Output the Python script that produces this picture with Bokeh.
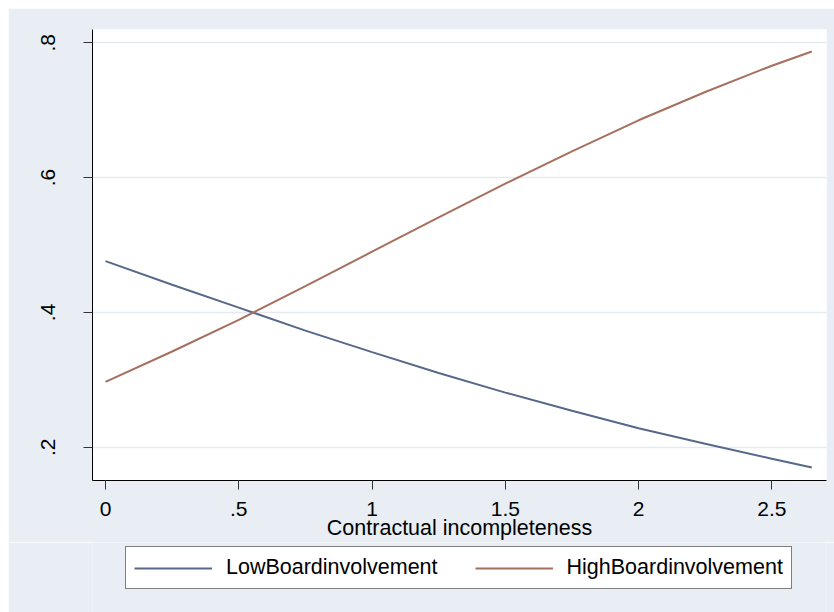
from bokeh.plotting import figure
from bokeh.models import Range1d, FixedTicker, Legend, LegendItem
from bokeh.layouts import column
from bokeh.embed import file_html
from bokeh.resources import INLINE

# Data
x_vals = [0.0, 0.25, 0.5, 0.75, 1.0, 1.25, 1.5, 1.75, 2.0, 2.25, 2.5, 2.65]
low_board = [0.476, 0.441, 0.407, 0.373, 0.341, 0.310, 0.281, 0.254, 0.228, 0.205, 0.183, 0.170]
high_board = [0.297, 0.342, 0.389, 0.439, 0.490, 0.541, 0.591, 0.639, 0.685, 0.727, 0.766, 0.787]

x_ticks = [0, 0.5, 1, 1.5, 2, 2.5]
x_tick_labels = ["0", ".5", "1", "1.5", "2", "2.5"]
y_ticks = [0.2, 0.4, 0.6, 0.8]
y_tick_labels = [".2", ".4", ".6", ".8"]

series_names = ["LowBoardinvolvement", "HighBoardinvolvement"]
x_title = "Contractual incompleteness"

BG = "#E8EEF3"
FONT = "Liberation Sans"
LOW_COLOR = "#56698A"
HIGH_COLOR = "#A6705E"

# ---- main plot ----
p = figure(width=826, height=534, output_backend="svg", toolbar_location=None,
           x_range=Range1d(-0.0488, 2.705), y_range=Range1d(0.1506, 0.8197),
           min_border_left=84, min_border_right=8, min_border_top=21, min_border_bottom=62,
           margin=(8, 0, 0, 8))

p.background_fill_color = "white"
p.border_fill_color = BG
p.outline_line_color = None

p.line(x_vals, low_board, line_color=LOW_COLOR, line_width=2)
p.line(x_vals, high_board, line_color=HIGH_COLOR, line_width=2)

for ax in (p.xaxis[0], p.yaxis[0]):
    ax.axis_line_color = "black"
    ax.axis_line_width = 1
    ax.major_tick_in = 0
    ax.major_tick_out = 9
    ax.major_tick_line_color = "#333333"
    ax.minor_tick_line_color = None
    ax.major_label_text_font = FONT
    ax.major_label_text_font_size = "21px"
    ax.major_label_text_color = "black"

p.xaxis[0].ticker = FixedTicker(ticks=x_ticks)
p.xaxis[0].major_label_overrides = {t: l for t, l in zip(x_ticks, x_tick_labels)}
p.xaxis[0].major_label_standoff = 12
p.xaxis[0].axis_label = x_title
p.xaxis[0].axis_label_text_font = FONT
p.xaxis[0].axis_label_text_font_size = "21.5px"
p.xaxis[0].axis_label_text_font_style = "normal"
p.xaxis[0].axis_label_text_color = "black"
p.xaxis[0].axis_label_standoff = -3

p.yaxis[0].ticker = FixedTicker(ticks=y_ticks)
p.yaxis[0].major_label_overrides = {t: l for t, l in zip(y_ticks, y_tick_labels)}
p.yaxis[0].major_label_orientation = "vertical"
p.yaxis[0].major_label_standoff = 28

p.xgrid.grid_line_color = None
p.ygrid.ticker = FixedTicker(ticks=y_ticks)
p.ygrid.grid_line_color = "#E3EBF1"
p.ygrid.grid_line_width = 1.6

# ---- legend strip (same series, legend only) ----
q = figure(width=826, height=70, output_backend="svg", toolbar_location=None,
           x_range=Range1d(10, 11), y_range=Range1d(10, 11),
           x_axis_location=None, y_axis_location=None,
           min_border_left=84, min_border_right=8, min_border_top=0, min_border_bottom=0,
           margin=(0, 0, 0, 8))
q.background_fill_color = BG
q.background_fill_alpha = 1
q.border_fill_color = BG
q.border_fill_alpha = 1
q.outline_line_color = None
q.grid.visible = False

q_low = q.line(x_vals, low_board, line_color=LOW_COLOR, line_width=2)
q_high = q.line(x_vals, high_board, line_color=HIGH_COLOR, line_width=2)

legend = Legend(items=[LegendItem(label=series_names[0], renderers=[q_low]),
                       LegendItem(label=series_names[1], renderers=[q_high])],
                orientation="horizontal", location=(33, 23))
legend.label_text_font = FONT
legend.label_text_font_size = "21.5px"
legend.label_text_color = "black"
legend.glyph_width = 78
legend.glyph_height = 20
legend.label_height = 20
legend.label_standoff = 14
legend.spacing = 37
legend.padding = 8
legend.margin = 0
legend.border_line_color = "black"
legend.border_line_width = 1
legend.background_fill_color = "white"
legend.background_fill_alpha = 1
q.add_layout(legend, "center")

layout = column(p, q, spacing=0)

open("out.html", "w").write(file_html(layout, INLINE))
